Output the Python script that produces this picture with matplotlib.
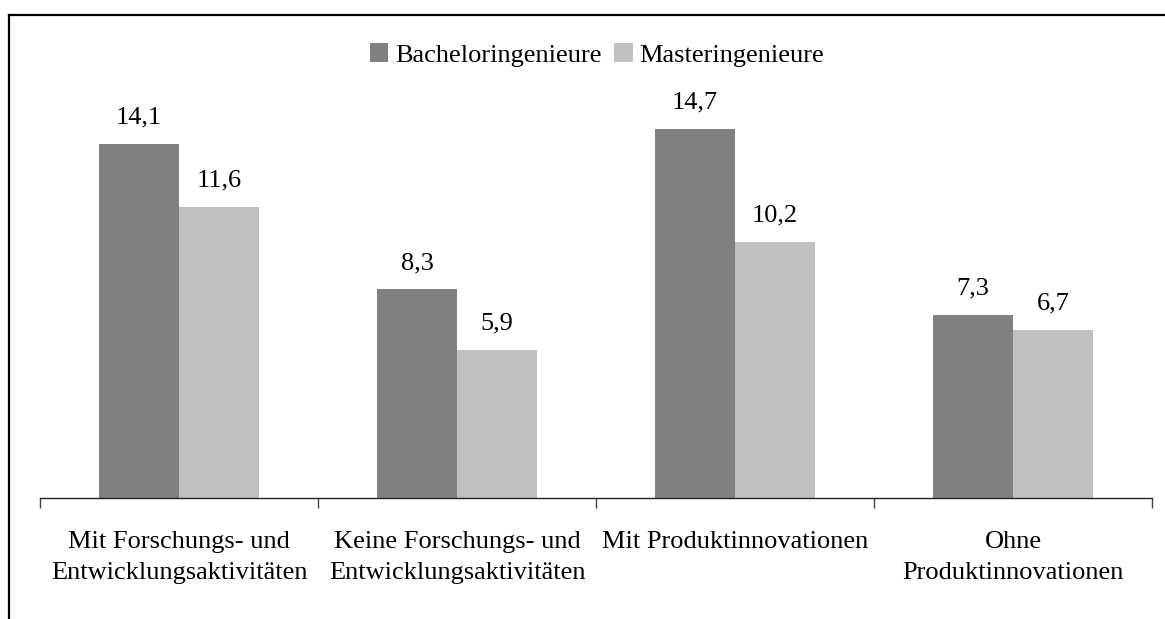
import numpy as np
import matplotlib.pyplot as plt
from matplotlib.lines import Line2D

plt.rcParams['font.family'] = ['Liberation Serif', 'DejaVu Serif']

# data
categories = ["Mit Forschungs- und\nEntwicklungsaktivitäten",
              "Keine Forschungs- und\nEntwicklungsaktivitäten",
              "Mit Produktinnovationen",
              "Ohne\nProduktinnovationen"]
bachelor = [14.1, 8.3, 14.7, 7.3]
master = [11.6, 5.9, 10.2, 6.7]
series_names = ["Bacheloringenieure", "Masteringenieure"]

W, H = 1165, 619
FS = 19
fig = plt.figure(figsize=(W / 100, H / 100), dpi=100)
ax = fig.add_axes([40 / W, 121 / H, (1152 - 40) / W, 402 / H])

x = np.arange(len(categories))
bw = 0.288
b1 = ax.bar(x - bw / 2, bachelor, bw, color="#808080", label=series_names[0])
b2 = ax.bar(x + bw / 2, master, bw, color="#c0c0c0", label=series_names[1])

fmt = lambda v: f"{v:.1f}".replace(".", ",")
ax.bar_label(b1, labels=[fmt(v) for v in bachelor], padding=11, fontsize=FS)
ax.bar_label(b2, labels=[fmt(v) for v in master], padding=11, fontsize=FS)

ax.set_xlim(-0.5, len(categories) - 0.5)
ax.set_ylim(0, 16)
ax.set_yticks([])
for s in ["top", "right", "left"]:
    ax.spines[s].set_visible(False)
ax.spines["bottom"].set_color("#222222")
ax.spines["bottom"].set_linewidth(1.0)

ax.set_xticks(x)
ax.set_xticklabels(categories, fontsize=FS)
for t in ax.get_xticklabels():
    t.set_linespacing(1.55)
ax.tick_params(axis="x", which="major", length=0, pad=23.5)
ax.set_xticks(np.arange(len(categories) + 1) - 0.5, minor=True)
ax.tick_params(axis="x", which="minor", length=7, width=1.0, color="#444444")

fig.legend(handles=[b1, b2], labels=series_names, loc="center",
           bbox_to_anchor=(597 / W, 1 - 55 / H), ncol=2, frameon=False,
           fontsize=FS, handlelength=0.7, handleheight=0.7,
           handletextpad=0.25, columnspacing=0.5)

# partial frame around the chart
fig.add_artist(Line2D([9 / W, 1], [1 - 15 / H, 1 - 15 / H], color="black", lw=1.6,
                      transform=fig.transFigure))
fig.add_artist(Line2D([9 / W, 9 / W], [0, 1 - 15 / H], color="black", lw=1.6,
                      transform=fig.transFigure))

fig.savefig("out.png", dpi=100)
